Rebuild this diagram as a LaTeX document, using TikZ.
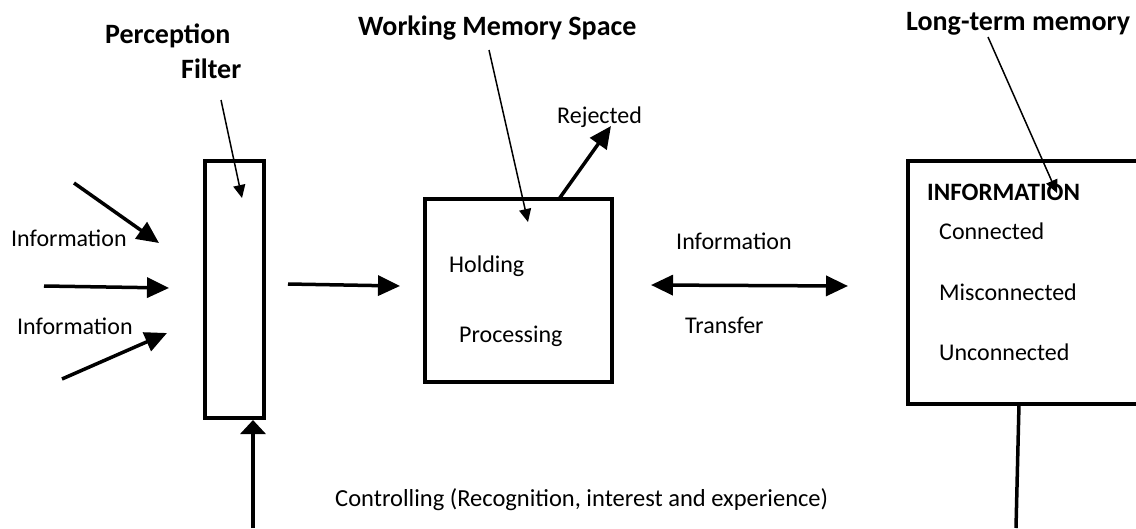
\documentclass[tikz,border=0pt]{standalone}
\usepackage{fontspec}
\setmainfont{Carlito}
\usetikzlibrary{arrows.meta,positioning}

\begin{document}
\begin{tikzpicture}[x=1pt,y=-1pt,
  box/.style={draw, line width=4pt, inner sep=0pt},
  flow/.style={line width=3.5pt, -{Triangle[length=22pt,width=20pt]}},
  twoway/.style={line width=3.5pt, {Triangle[length=22pt,width=20pt]}-{Triangle[length=22pt,width=20pt]}},
  pointer/.style={line width=1.5pt, -{Triangle[length=13pt,width=12pt]}},
  txt/.style={anchor=base west, inner sep=0pt, font=\fontsize{24}{28}\selectfont},
  head/.style={anchor=base west, inner sep=0pt, font=\fontsize{28}{32}\selectfont\bfseries}]
\clip (0,0) rectangle (1136,528);

% the three stores
\node[box, minimum width=59pt, minimum height=257pt] (filter) at (234.5,289.5) {};
\node[box, minimum width=187pt, minimum height=183pt] (wm) at (518.5,290.5) {};
\node[box, minimum width=270pt, minimum height=243pt] (ltm) at (1043,282.5) {};

% titles
\node[head] (percept) at (105,43) {Perception};
\node[head] (filtname) at (181,78) {Filter};
\node[head] (wmname) at (358,35) {Working Memory Space};
\node[head] (ltmname) at (906,30) {Long-term memory};

% labels
\node[txt] (info1) at (11,246) {Information};
\node[txt] (info2) at (17,334) {Information};
\node[txt] (reject) at (557,123) {Rejected};
\node[txt] (hold) at (449,272) {Holding};
\node[txt] (proc) at (459,342) {Processing};
\node[txt] (info3) at (676,249) {Information};
\node[txt] (transf) at (685,333) {Transfer};
\node[head, font=\fontsize{25}{29}\selectfont\bfseries] (ltminfo) at (927,200) {INFORMATION};
\node[txt] (conn) at (939,239) {Connected};
\node[txt] (misconn) at (939,300) {Misconnected};
\node[txt] (unconn) at (939,360) {Unconnected};
\node[txt, font=\fontsize{24.5}{28}\selectfont] (ctrl) at (335,506) {Controlling (Recognition, interest and experience)};

% loose ends
\coordinate (in1) at (74,183);   \coordinate (in1tip) at (159,243);
\coordinate (in2) at (44,286);   \coordinate (in2tip) at (169,288);
\coordinate (in3) at (62,379);   \coordinate (in3tip) at (167,333);
\coordinate (rejfoot) at (559,199); \coordinate (rejtip) at (611,126);
\coordinate (wmout) at (288,284);  \coordinate (wmin) at (400,286);
\coordinate (xleft) at (651,285);  \coordinate (xright) at (848,286);
\coordinate (ctrlfoot) at (253,528);
\coordinate (ltmfoot) at (1019,404); \coordinate (ltmend) at (1016,528);

% incoming information
\draw[flow] (in1) -- (in1tip);
\draw[flow] (in2) -- (in2tip);
\draw[flow] (in3) -- (in3tip);

% filter -> working memory -> long-term memory
\draw[flow] (wmout) -- (wmin);
\draw[flow] (rejfoot) -- (rejtip);
\draw[twoway] (xleft) -- (xright);

% control loop
\draw[line width=3.5pt] (ltmfoot) -- (ltmend);
\draw[line width=4pt, -{Triangle[length=14pt,width=25pt]}] (ctrlfoot) -- (ctrlfoot |- filter.south);

% title pointers
\draw[pointer] (221,100) -- (242,198);
\draw[pointer] (489,50) -- (528,222);
\draw[pointer] (988,37) -- (1057,193);
\end{tikzpicture}
\end{document}
